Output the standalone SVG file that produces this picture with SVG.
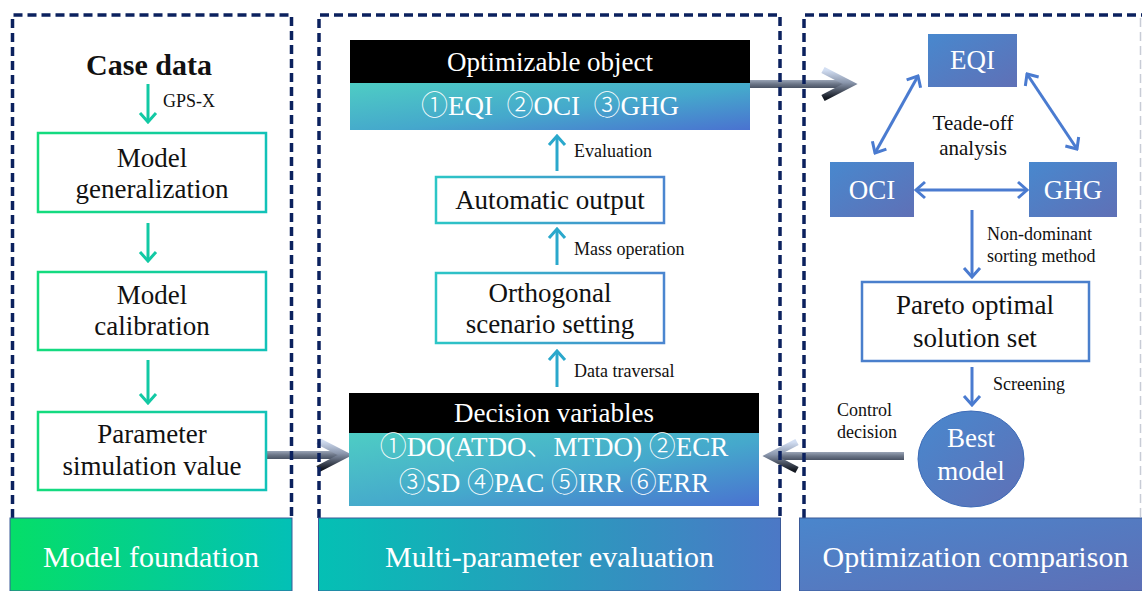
<svg xmlns="http://www.w3.org/2000/svg" width="1142" height="591" viewBox="0 0 1142 591">
<style>
  .frame{fill:none;stroke:#0B215E;stroke-width:3.5;stroke-dasharray:9 5}
  .t{font-family:"Liberation Serif",serif;fill:#111;text-anchor:middle}
  .cjk{font-family:"Noto Sans CJK SC",sans-serif;font-weight:300}
  .big{font-size:27px}
  .lbl{font-family:"Liberation Serif",serif;font-size:18px;fill:#111}
  .w{fill:#fff}
  .foot{font-family:"Liberation Serif",serif;font-size:30px;fill:#fff;text-anchor:middle}
  .ag{fill:none;stroke:#12C9A4;stroke-width:3}
  .am{fill:none;stroke:#2AA8CC;stroke-width:3}
  .ab{fill:none;stroke:#4A7BD0;stroke-width:3}
  .shaft{fill:url(#gShaft)}
  .chev{fill:none;stroke:url(#gChev);stroke-width:7;stroke-linejoin:miter}
</style>
<defs>
  <linearGradient id="gFootL" x1="0" y1="0" x2="1" y2="0"><stop offset="0" stop-color="#05DE68"/><stop offset="1" stop-color="#03C0B6"/></linearGradient>
  <linearGradient id="gFootM" x1="0" y1="0" x2="1" y2="0"><stop offset="0" stop-color="#04C0B4"/><stop offset="1" stop-color="#4C78C6"/></linearGradient>
  <linearGradient id="gFootR" x1="0" y1="0" x2="1" y2="1"><stop offset="0" stop-color="#4A86CC"/><stop offset="1" stop-color="#5E6FB6"/></linearGradient>
  <linearGradient id="gBoxL" x1="0" y1="0" x2="1" y2="0"><stop offset="0" stop-color="#14DC7C"/><stop offset="1" stop-color="#12C2B8"/></linearGradient>
  <linearGradient id="gBoxM" x1="0" y1="0" x2="1" y2="0"><stop offset="0" stop-color="#2CC6C6"/><stop offset="1" stop-color="#4B86D0"/></linearGradient>
  <linearGradient id="gBand" x1="0" y1="0" x2="1" y2="1"><stop offset="0" stop-color="#4ECDC4"/><stop offset="0.55" stop-color="#45A8CC"/><stop offset="1" stop-color="#4A72D0"/></linearGradient>
  <linearGradient id="gBlue" x1="0" y1="0" x2="1" y2="1"><stop offset="0" stop-color="#4888CE"/><stop offset="1" stop-color="#5F70B6"/></linearGradient>
  <linearGradient id="gShaft" x1="0" y1="0" x2="0" y2="1"><stop offset="0" stop-color="#9AA4B6"/><stop offset="0.5" stop-color="#6B7587"/><stop offset="1" stop-color="#4A5364"/></linearGradient>
  <linearGradient id="gChev" x1="0" y1="0" x2="0" y2="1"><stop offset="0" stop-color="#D2DEF2"/><stop offset="0.45" stop-color="#8A96AC"/><stop offset="1" stop-color="#141922"/></linearGradient>
  <marker id="mG" viewBox="0 0 14 20" markerWidth="14" markerHeight="20" refX="12" refY="10" markerUnits="userSpaceOnUse" orient="auto-start-reverse"><path d="M3,2 L12,10 L3,18" fill="none" stroke="#12C9A4" stroke-width="3"/></marker>
  <marker id="mM" viewBox="0 0 14 20" markerWidth="14" markerHeight="20" refX="12" refY="10" markerUnits="userSpaceOnUse" orient="auto-start-reverse"><path d="M3,2 L12,10 L3,18" fill="none" stroke="#2AA8CC" stroke-width="3"/></marker>
  <marker id="mB" viewBox="0 0 14 20" markerWidth="14" markerHeight="20" refX="12" refY="10" markerUnits="userSpaceOnUse" orient="auto-start-reverse"><path d="M3,2 L12,10 L3,18" fill="none" stroke="#4A7BD0" stroke-width="3"/></marker>
</defs>
<rect width="1142" height="591" fill="#fff"/>

<g id="connectors">
  <line class="ag" x1="148" y1="84" x2="148" y2="122" marker-end="url(#mG)"/>
  <line class="ag" x1="148" y1="223" x2="148" y2="261" marker-end="url(#mG)"/>
  <line class="ag" x1="148" y1="360" x2="148" y2="403" marker-end="url(#mG)"/>
  <text class="lbl" x="163" y="107">GPS-X</text>

  <line class="am" x1="557" y1="171" x2="557" y2="136" marker-end="url(#mM)"/>
  <line class="am" x1="557" y1="265" x2="557" y2="229" marker-end="url(#mM)"/>
  <line class="am" x1="557" y1="387" x2="557" y2="351" marker-end="url(#mM)"/>
  <text class="lbl" x="574" y="157">Evaluation</text>
  <text class="lbl" x="574" y="255">Mass operation</text>
  <text class="lbl" x="574" y="377">Data traversal</text>

  <line class="ab" x1="918" y1="76" x2="875" y2="153" marker-start="url(#mB)" marker-end="url(#mB)"/>
  <line class="ab" x1="1027" y1="74" x2="1077" y2="149" marker-start="url(#mB)" marker-end="url(#mB)"/>
  <line class="ab" x1="916" y1="190" x2="1027" y2="190" marker-start="url(#mB)" marker-end="url(#mB)"/>
  <line class="ab" x1="972" y1="210" x2="972" y2="277" marker-end="url(#mB)"/>
  <line class="ab" x1="972" y1="367" x2="972" y2="405" marker-end="url(#mB)"/>
  <text class="t" style="font-size:21px" x="973" y="130">Teade-off</text>
  <text class="t" style="font-size:21px" x="973" y="155">analysis</text>
  <text class="lbl" x="987" y="240">Non-dominant</text>
  <text class="lbl" x="987" y="262">sorting method</text>
  <text class="lbl" x="993" y="390">Screening</text>
  <text class="lbl" x="837" y="416">Control</text>
  <text class="lbl" x="837" y="438">decision</text>

  <rect class="shaft" x="266" y="451" width="76" height="8"/>
  <polyline class="chev" points="318,441 345,455 318,469"/>
  <rect class="shaft" x="750" y="80" width="97" height="8"/>
  <polyline class="chev" points="823,70 850,84 823,98"/>
  <rect class="shaft" x="773" y="452" width="131" height="8"/>
  <polyline class="chev" points="797,442 770,456 797,470"/>
</g>

<g id="frames">
  <path class="frame" d="M12.5,518 V15 H291.5 V518"/>
  <path class="frame" d="M319,518 V15 H780 V518"/>
  <path class="frame" d="M804,518 V15 H1142"/>
  <line x1="1140.5" y1="18" x2="1140.5" y2="518" stroke="#C8CCD6" stroke-width="1.5" stroke-dasharray="9 5"/>
</g>

<g id="case-data"><text class="t" x="149" y="75" style="font-size:30px;font-weight:bold">Case data</text></g>
<g id="model-generalization">
  <rect x="38" y="133" width="228" height="79" fill="#fff" stroke="url(#gBoxL)" stroke-width="2.5"/>
  <text class="t big" x="152" y="167">Model</text><text class="t big" x="152" y="198">generalization</text>
</g>
<g id="model-calibration">
  <rect x="38" y="272" width="228" height="78" fill="#fff" stroke="url(#gBoxL)" stroke-width="2.5"/>
  <text class="t big" x="152" y="304">Model</text><text class="t big" x="152" y="335">calibration</text>
</g>
<g id="parameter-simulation">
  <rect x="38" y="412" width="228" height="78" fill="#fff" stroke="url(#gBoxL)" stroke-width="2.5"/>
  <text class="t big" x="152" y="443">Parameter</text><text class="t big" x="152" y="475">simulation value</text>
</g>

<g id="optimizable-object">
  <rect x="350" y="40" width="400" height="43" fill="#000"/>
  <rect x="350" y="83" width="400" height="47" fill="url(#gBand)"/>
  <text class="t big w" x="550" y="71">Optimizable object</text>
  <text class="t big w" x="550" y="115" xml:space="preserve"><tspan class="cjk">①</tspan>EQI  <tspan class="cjk">②</tspan>OCI  <tspan class="cjk">③</tspan>GHG</text>
</g>
<g id="automatic-output">
  <rect x="436" y="177" width="228" height="46" fill="#fff" stroke="url(#gBoxM)" stroke-width="2.5"/>
  <text class="t big" x="550" y="209">Automatic output</text>
</g>
<g id="orthogonal-scenario">
  <rect x="436" y="273" width="228" height="70" fill="#fff" stroke="url(#gBoxM)" stroke-width="2.5"/>
  <text class="t big" x="550" y="302">Orthogonal</text><text class="t big" x="550" y="333">scenario setting</text>
</g>
<g id="decision-variables">
  <rect x="349" y="393" width="410" height="40" fill="#000"/>
  <rect x="349" y="433" width="410" height="73" fill="url(#gBand)"/>
  <text class="t big w" x="554" y="422">Decision variables</text>
  <text class="t big w" x="554" y="456"><tspan class="cjk">①</tspan>DO(ATDO<tspan class="cjk">、</tspan>MTDO) <tspan class="cjk">②</tspan>ECR</text>
  <text class="t big w" x="554" y="492"><tspan class="cjk">③</tspan>SD <tspan class="cjk">④</tspan>PAC <tspan class="cjk">⑤</tspan>IRR <tspan class="cjk">⑥</tspan>ERR</text>
</g>

<g id="eqi"><rect x="928" y="34" width="89" height="53" fill="url(#gBlue)"/><text class="t big w" x="972.5" y="69">EQI</text></g>
<g id="oci"><rect x="830" y="162" width="84" height="55" fill="url(#gBlue)"/><text class="t big w" x="872" y="199">OCI</text></g>
<g id="ghg"><rect x="1029" y="162" width="88" height="55" fill="url(#gBlue)"/><text class="t big w" x="1073" y="199">GHG</text></g>
<g id="pareto">
  <rect x="862" y="282" width="227" height="79" fill="#fff" stroke="#4A7FCC" stroke-width="2.5"/>
  <text class="t big" x="975" y="314">Pareto optimal</text><text class="t big" x="975" y="347">solution set</text>
</g>
<g id="best-model">
  <ellipse cx="971" cy="459" rx="53" ry="48" fill="url(#gBlue)" stroke="#3E6CB8" stroke-width="1"/>
  <text class="t big w" x="971" y="447">Best</text><text class="t big w" x="971" y="480">model</text>
</g>

<g id="footer-model-foundation"><rect x="10" y="518" width="282" height="73" fill="url(#gFootL)" stroke="#3B5A98" stroke-width="1"/><text class="foot" x="151" y="567">Model foundation</text></g>
<g id="footer-multi-parameter"><rect x="318.5" y="518" width="462" height="73" fill="url(#gFootM)" stroke="#3B5A98" stroke-width="1"/><text class="foot" x="549.5" y="567">Multi-parameter evaluation</text></g>
<g id="footer-optimization"><rect x="799.5" y="518" width="343" height="73" fill="url(#gFootR)" stroke="#3B5A98" stroke-width="1"/><text class="foot" x="975.5" y="567">Optimization comparison</text></g>
</svg>
